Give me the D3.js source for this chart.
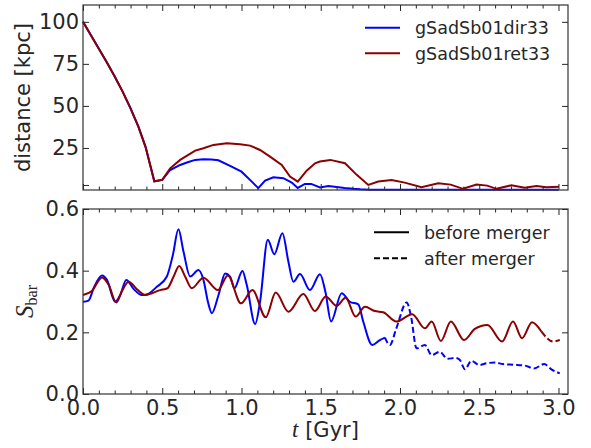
<!DOCTYPE html>
<html>
<head>
<meta charset="utf-8">
<script src="https://cdn.jsdelivr.net/npm/d3@7"></script>
<style>
  body { margin: 0; background: #fff; }
  text { font-family: "DejaVu Sans", sans-serif; fill: #262626; }
</style>
</head>
<body>
<div id="chart"></div>
<script>
// distance between the galaxies [kpc]
var tDistDir = [0,0.05,0.1,0.15,0.2,0.25,0.3,0.35,0.395,0.45,0.5,0.55,0.613,0.66,0.708,0.76,0.81,0.854,0.928,1.0,1.065,1.106,1.149,1.201,1.264,1.317,1.355,1.40,1.44,1.495,1.548,1.60,1.65,1.705,1.75,1.81,2.0,2.5,3.0];
var distDir  = [100,92,84,76,67.5,58.5,48.5,37.5,25.5,5.2,6,11.9,14.9,16.5,17.9,18.3,18.2,17.7,14.3,10.9,5,1.1,5.6,7.6,7,4.4,1.2,3.6,3.6,1.5,2.4,1.8,1.2,0.7,0.4,0.2,0.2,0.2,0.2];
var tDistRet = [0,0.05,0.1,0.15,0.2,0.25,0.3,0.35,0.395,0.45,0.5,0.55,0.613,0.708,0.76,0.823,0.907,0.991,1.054,1.117,1.18,1.254,1.306,1.355,1.411,1.464,1.495,1.56,1.653,1.727,1.8,1.863,1.947,2.03,2.136,2.241,2.32,2.398,2.483,2.55,2.609,2.703,2.787,2.861,2.924,3.003];
var distRet  = [100,92,84,76,67.5,58.5,48.5,37.5,25.5,5.2,6,12.9,17.9,23.4,24.8,26.8,27.8,27.2,26.4,23.8,19.8,14.9,8,5,11.5,15.9,16.9,17.9,15.9,9,3,5,6,4.4,1.7,4,3.2,0.7,3.2,2.6,0.7,2.8,1.4,2.4,1.7,2];

// bar strength
var tBarDir = [0,0.035,0.067,0.12,0.151,0.203,0.235,0.273,0.319,0.372,0.403,0.466,0.529,0.567,0.602,0.634,0.676,0.728,0.76,0.79,0.813,0.855,0.897,0.928,0.955,1.006,1.033,1.086,1.117,1.166,1.207,1.258,1.296,1.327,1.369,1.432,1.495,1.53,1.565,1.632,1.684,1.737,1.768,1.825,1.873,1.905,1.936,1.977,2.042,2.068,2.105,2.157,2.2,2.251,2.3,2.35,2.378,2.41,2.45,2.5,2.55,2.6,2.65,2.72,2.79,2.846,2.91,2.955,3.008];
var barDir  = [0.299,0.303,0.343,0.384,0.37,0.299,0.321,0.370,0.341,0.321,0.323,0.348,0.381,0.451,0.534,0.462,0.381,0.402,0.37,0.295,0.262,0.321,0.391,0.381,0.343,0.399,0.354,0.227,0.299,0.5,0.453,0.521,0.429,0.364,0.389,0.337,0.388,0.33,0.235,0.327,0.299,0.291,0.235,0.159,0.175,0.183,0.159,0.213,0.297,0.256,0.148,0.159,0.126,0.137,0.114,0.117,0.11,0.08,0.108,0.094,0.1,0.102,0.097,0.095,0.092,0.083,0.097,0.08,0.067];
var tBarRet = [0,0.056,0.12,0.162,0.21,0.246,0.288,0.34,0.392,0.435,0.487,0.533,0.571,0.607,0.645,0.686,0.76,0.851,0.914,0.997,1.069,1.153,1.216,1.296,1.39,1.464,1.531,1.6,1.657,1.72,1.779,1.842,1.894,1.977,2.077,2.157,2.2,2.258,2.321,2.404,2.472,2.552,2.644,2.713,2.77,2.833,2.893,2.966,3.008];
var barRet  = [0.321,0.334,0.378,0.354,0.297,0.334,0.364,0.34,0.321,0.327,0.337,0.343,0.380,0.415,0.38,0.343,0.377,0.337,0.384,0.294,0.337,0.249,0.329,0.267,0.324,0.269,0.316,0.286,0.312,0.251,0.283,0.269,0.265,0.235,0.259,0.213,0.235,0.172,0.235,0.175,0.211,0.224,0.170,0.235,0.181,0.233,0.202,0.170,0.175];

// merger times [Gyr]
var mergerDir = 1.905, mergerRet = 2.893;

var runNames = ["gSadSb01dir33", "gSadSb01ret33"];
var phaseNames = ["before merger", "after merger"];

var xTicks = [0, 0.5, 1.0, 1.5, 2.0, 2.5, 3.0];
var xMinorTicks = [0.1,0.2,0.3,0.4,0.6,0.7,0.8,0.9,1.1,1.2,1.3,1.4,1.6,1.7,1.8,1.9,2.1,2.2,2.3,2.4,2.6,2.7,2.8,2.9];
var distTicks = [25, 50, 75, 100];
var distExtraTick = [3];
var barTicks = [0.0, 0.2, 0.4, 0.6];

var width = 591, height = 448;
var left = 83, right = 568;
var top1 = 5, bot1 = 190, top2 = 209, bot2 = 394;
var blue = "#0000ff", red = "#8b0000", ink = "#262626";

var svg = d3.select("#chart").append("svg")
    .attr("width", width)
    .attr("height", height);

var x = d3.scaleLinear().domain([0, 3.06]).range([left, right]);
var yDist = d3.scaleLinear().domain([0, 110]).range([bot1, top1]);
var yBar = d3.scaleLinear().domain([0, 0.6]).range([bot2, top2]);

function styleAxis(g) {
  g.select(".domain").remove();
  g.selectAll("line").attr("stroke", ink).attr("stroke-width", 1);
  g.selectAll("text").attr("fill", ink).style("font-size", "21px")
    .style("font-family", "DejaVu Sans, sans-serif");
}

function axes(yScale, yTicks, yFmt, yTop, yBot, showX) {
  // bottom
  svg.append("g").attr("transform", "translate(0," + yBot + ")")
    .call(d3.axisBottom(x).tickValues(xTicks).tickSizeInner(-6).tickSizeOuter(0).tickPadding(6)
      .tickFormat(showX ? d3.format(".1f") : ""))
    .call(styleAxis);
  svg.append("g").attr("transform", "translate(0," + yBot + ")")
    .call(d3.axisBottom(x).tickValues(xMinorTicks).tickSizeInner(-3.5).tickSizeOuter(0).tickFormat(""))
    .call(styleAxis);
  // top
  svg.append("g").attr("transform", "translate(0," + yTop + ")")
    .call(d3.axisTop(x).tickValues(xTicks).tickSizeInner(-6).tickSizeOuter(0).tickFormat(""))
    .call(styleAxis);
  svg.append("g").attr("transform", "translate(0," + yTop + ")")
    .call(d3.axisTop(x).tickValues(xMinorTicks).tickSizeInner(-3.5).tickSizeOuter(0).tickFormat(""))
    .call(styleAxis);
  // left / right
  svg.append("g").attr("transform", "translate(" + left + ",0)")
    .call(d3.axisLeft(yScale).tickValues(yTicks).tickSizeInner(-6).tickSizeOuter(0).tickPadding(4).tickFormat(yFmt))
    .call(styleAxis);
  svg.append("g").attr("transform", "translate(" + right + ",0)")
    .call(d3.axisRight(yScale).tickValues(yTicks).tickSizeInner(-6).tickSizeOuter(0).tickFormat(""))
    .call(styleAxis);
  svg.append("rect")
    .attr("x", left).attr("y", yTop)
    .attr("width", right - left).attr("height", yBot - yTop)
    .attr("fill", "none").attr("stroke", "#333").attr("stroke-width", 1.2);
}

// ---------- top panel: distance
var distLine = d3.line()
  .x(function(d) { return x(d[0]); })
  .y(function(d) { return yDist(d[1]); });

svg.append("path")
  .datum(d3.zip(tDistDir, distDir))
  .attr("d", distLine)
  .attr("fill", "none").attr("stroke", blue).attr("stroke-width", 2);
svg.append("path")
  .datum(d3.zip(tDistRet, distRet))
  .attr("d", distLine)
  .attr("fill", "none").attr("stroke", red).attr("stroke-width", 2);

axes(yDist, distTicks, d3.format("d"), top1, bot1, false);
svg.append("g").attr("transform", "translate(" + left + ",0)")
  .call(d3.axisLeft(yDist).tickValues(distExtraTick).tickSizeInner(-6).tickSizeOuter(0).tickFormat(""))
  .call(styleAxis);
svg.append("g").attr("transform", "translate(" + right + ",0)")
  .call(d3.axisRight(yDist).tickValues(distExtraTick).tickSizeInner(-6).tickSizeOuter(0).tickFormat(""))
  .call(styleAxis);

svg.append("text")
  .attr("transform", "translate(29.5," + ((top1 + bot1) / 2) + ")rotate(-90)")
  .attr("text-anchor", "middle")
  .style("font-size", "21px")
  .text("distance [kpc]");

// legend (runs)
[blue, red].forEach(function(c, i) {
  var ly = 27.7 + i * 25.6;
  svg.append("line").attr("x1", 365).attr("x2", 400).attr("y1", ly).attr("y2", ly)
    .attr("stroke", c).attr("stroke-width", 2);
  svg.append("text").attr("x", 415).attr("y", ly + 6.3)
    .style("font-size", "17.5px").text(runNames[i]);
});

// ---------- bottom panel: bar strength
var barLine = d3.line()
  .x(function(d) { return x(d[0]); })
  .y(function(d) { return yBar(d[1]); })
  .curve(d3.curveMonotoneX);

function drawBar(ts, vs, tm, color) {
  var pts = d3.zip(ts, vs);
  svg.append("path")
    .datum(pts.filter(function(d) { return d[0] <= tm; }))
    .attr("d", barLine)
    .attr("fill", "none").attr("stroke", color).attr("stroke-width", 2);
  svg.append("path")
    .datum(pts.filter(function(d) { return d[0] >= tm; }))
    .attr("d", barLine)
    .attr("fill", "none").attr("stroke", color).attr("stroke-width", 2)
    .attr("stroke-dasharray", "6,3");
}
drawBar(tBarDir, barDir, mergerDir, blue);
drawBar(tBarRet, barRet, mergerRet, red);

axes(yBar, barTicks, d3.format(".1f"), top2, bot2, true);

// y label S_bar
var sl = svg.append("text")
  .attr("transform", "translate(33," + ((top2 + bot2) / 2) + ")rotate(-90)")
  .attr("text-anchor", "middle");
sl.append("tspan").style("font-family", "Liberation Serif, DejaVu Serif, serif")
  .style("font-style", "italic").style("font-size", "25px").text("S");
sl.append("tspan").style("font-family", "Liberation Serif, DejaVu Serif, serif")
  .style("font-size", "16px").attr("dy", 4).text("bar");

// x label
var xl = svg.append("text")
  .attr("x", (left + right) / 2).attr("y", 437)
  .attr("text-anchor", "middle").style("font-size", "21px");
xl.append("tspan").style("font-family", "Liberation Serif, DejaVu Serif, serif")
  .style("font-style", "italic").style("font-size", "23px").text("t");
xl.append("tspan").text(" [Gyr]");

// legend (phases)
["none", "6,3"].forEach(function(dash, i) {
  var ly = 232.3 + i * 26;
  svg.append("line").attr("x1", 374).attr("x2", 409).attr("y1", ly).attr("y2", ly)
    .attr("stroke", "#000").attr("stroke-width", 2)
    .attr("stroke-dasharray", dash === "none" ? null : dash);
  svg.append("text").attr("x", 424).attr("y", ly + 6.3)
    .style("font-size", "17.5px").text(phaseNames[i]);
});
</script>
</body>
</html>
